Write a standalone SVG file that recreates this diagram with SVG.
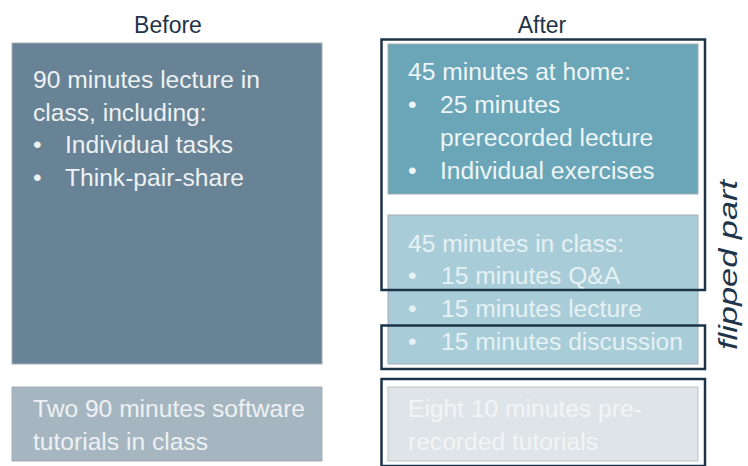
<svg xmlns="http://www.w3.org/2000/svg" width="748" height="466" viewBox="0 0 748 466">
<style>
.h{font-family:"Liberation Sans",Arial,sans-serif;font-size:23px;fill:#1e3448;text-anchor:middle}
.t{font-family:"Liberation Sans",Arial,sans-serif;font-size:24.6px}
.w1{fill:#eef1f3}
.w2{fill:#eef5f7}
.w3{fill:#e6f1f4}
.w4{fill:#f2f4f5}
.frame{fill:none;stroke:#1c3448;stroke-width:2.5}
.box{stroke:#a3adb3;stroke-width:1}
</style>
<rect width="748" height="466" fill="#ffffff"/>
<text class="h" x="168" y="32.5">Before</text>
<text class="h" x="542" y="32.5">After</text>
<g id="before-lecture">
<rect class="box" x="12" y="43" width="310" height="321" fill="#688395"/>
<text class="t w1" x="33" y="88">90 minutes lecture in</text>
<text class="t w1" x="33" y="120.5">class, including:</text>
<text class="t w1" x="33" y="153">•</text><text class="t w1" x="65" y="153">Individual tasks</text>
<text class="t w1" x="33" y="185.5">•</text><text class="t w1" x="65" y="185.5">Think-pair-share</text>
</g>
<g id="before-tutorials">
<rect class="box" x="12" y="387" width="310" height="74" fill="#a6b6c1"/>
<text class="t w1" x="33" y="417">Two 90 minutes software</text>
<text class="t w1" x="33" y="449.5">tutorials in class</text>
</g>
<g id="after-home">
<rect class="box" x="388" y="44" width="310" height="150" fill="#6aa6b8"/>
<text class="t w2" x="408" y="79.5">45 minutes at home:</text>
<text class="t w2" x="408" y="112.5">•</text><text class="t w2" x="440" y="112.5">25 minutes</text>
<text class="t w2" x="440" y="145.5">prerecorded lecture</text>
<text class="t w2" x="408" y="178.5">•</text><text class="t w2" x="440" y="178.5">Individual exercises</text>
</g>
<g id="after-class">
<rect class="box" x="388" y="215" width="310" height="149" fill="#a9cdd8"/>
<text class="t w3" x="408" y="251.5">45 minutes in class:</text>
<text class="t w3" x="408" y="284">•</text><text class="t w3" x="441" y="284">15 minutes Q&amp;A</text>
<text class="t w3" x="408" y="317">•</text><text class="t w3" x="441" y="317">15 minutes lecture</text>
<text class="t w3" x="408" y="350">•</text><text class="t w3" x="441" y="350">15 minutes discussion</text>
</g>
<g id="after-tutorials">
<rect x="388" y="387" width="310" height="74" fill="#dee4e8" stroke="#bcc5ca" stroke-width="1"/>
<text class="t w4" x="408" y="417">Eight 10 minutes pre-</text>
<text class="t w4" x="408" y="450">recorded tutorials</text>
</g>
<g id="connectors">
<rect class="frame" x="381.5" y="39.5" width="323.5" height="250.5"/>
<rect class="frame" x="381.5" y="325.5" width="323.5" height="43.5"/>
<rect class="frame" x="381.5" y="379" width="323.5" height="87"/>
</g>
<g id="flipped-label">
<text transform="translate(737,350) rotate(-90)" x="0" y="0" font-family="'Liberation Sans',Arial,sans-serif" font-style="italic" font-size="25" fill="#1e3448" textLength="170" lengthAdjust="spacingAndGlyphs">flipped part</text>
</g>
</svg>
